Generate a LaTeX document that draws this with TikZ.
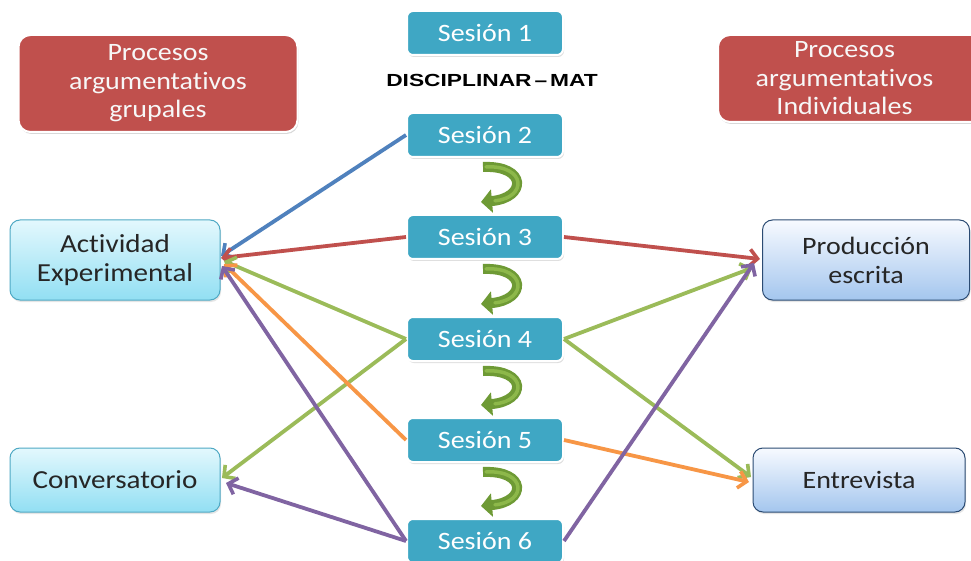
\documentclass[tikz,border=0pt]{standalone}
\usepackage{fontspec}
\usepackage{graphicx}
\setmainfont{Carlito}[FakeStretch=1.12, Ligatures=NoCommon]
\newfontfamily\discfont{Liberation Sans Bold}[FakeStretch=1.3]
\usetikzlibrary{arrows.meta,shadows,calc}
\definecolor{sesfill}{HTML}{3FA7C4}
\definecolor{redbox}{HTML}{C0504D}
\definecolor{cyanTop}{HTML}{E3F8FD}
\definecolor{cyanBot}{HTML}{92DFF3}
\definecolor{cyanBorder}{HTML}{4FA9C4}
\definecolor{blueTop}{HTML}{F7FAFF}
\definecolor{blueBot}{HTML}{A4C6EE}
\definecolor{blueBorder}{HTML}{2B4B73}
\definecolor{aBlue}{HTML}{4F81BD}
\definecolor{aRed}{HTML}{C0504D}
\definecolor{aGreen}{HTML}{9BBB59}
\definecolor{aOrange}{HTML}{F79646}
\definecolor{aPurple}{HTML}{8064A2}
\definecolor{curveGreen}{HTML}{6E9A35}
\definecolor{curveLight}{HTML}{8DB84A}
\tikzset{
  ses/.style={draw=white, line width=2pt, fill=sesfill, rounded corners=6pt,
    minimum width=156pt, minimum height=44pt, text=white,
    font=\fontsize{25}{29}\selectfont,
    drop shadow={opacity=0.25, shadow xshift=1pt, shadow yshift=-2pt}},
  redbx/.style={fill=redbox, draw=white, line width=2pt, rounded corners=12pt,
    text=white!94!gray, align=center, font=\fontsize{25}{28.5}\selectfont,
    drop shadow={opacity=0.3, shadow xshift=1pt, shadow yshift=-2pt}},
  lbox/.style={draw=cyanBorder, line width=1pt, top color=cyanTop, bottom color=cyanBot,
    rounded corners=10pt, align=center, text=black!85,
    font=\fontsize{26}{29}\selectfont,
    drop shadow={opacity=0.2, shadow xshift=1pt, shadow yshift=-2pt}},
  rbox/.style={draw=blueBorder, line width=1pt, top color=blueTop, bottom color=blueBot,
    rounded corners=10pt, align=center, text=black!85,
    font=\fontsize{25}{29}\selectfont,
    drop shadow={opacity=0.2, shadow xshift=1pt, shadow yshift=-2pt}},
  conn/.style={line width=3.8pt, -{Straight Barb[length=8pt,width=17pt,line width=3.6pt]}},
  curv/.style={line width=10pt, curveGreen, -{Triangle[length=11pt,width=23pt]}},
}
\begin{document}
\begin{tikzpicture}[x=1pt,y=-1pt]
\useasboundingbox[fill=white] (0,0) rectangle (971,561);
% header boxes
\node[redbx, minimum width=279pt, minimum height=97pt] (pg) at (158,83.5) {Procesos\\argumentativos\\grupales};
\node[redbx, minimum width=267pt, minimum height=87pt] (pi) at (851.5,78.5) {\hspace*{-14pt}Procesos\\\hspace*{-14pt}argumentativos\\\hspace*{-14pt}Individuales};
% sessions
\node[ses] (s1) at (485,33) {Sesión 1};
\node[font=\discfont\fontsize{17.5}{20}\selectfont] (disc) at (492,80) {DISCIPLINAR\,–\,MAT};
\node[ses] (s2) at (485,135) {Sesión 2};
\node[ses] (s3) at (485,237) {Sesión 3};
\node[ses] (s4) at (485,339) {Sesión 4};
\node[ses] (s5) at (485,440) {Sesión 5};
\node[ses] (s6) at (485,541) {Sesión 6};
% side boxes
\node[lbox, minimum width=210pt, minimum height=80pt] (ae) at (115,260) {Actividad\\Experimental};
\node[lbox, minimum width=210pt, minimum height=64pt] (cv) at (115,480) {Conversatorio};
\node[rbox, minimum width=207pt, minimum height=80pt] (pe) at (866,260) {Producción\\escrita};
\node[rbox, minimum width=212pt, minimum height=64pt] (en) at (859,480) {Entrevista};
% arrow targets
\coordinate (ae1) at (221,256);
\coordinate (ae2) at (221,258);
\coordinate (ae3) at (224,261);
\coordinate (ae4) at (224,264);
\coordinate (ae5) at (222,266);
\coordinate (cv1) at (222,478);
\coordinate (cv2) at (226,483);
\coordinate (pe1) at (760,259);
\coordinate (pe2) at (752,268);
\coordinate (pe3) at (754,263);
\coordinate (en1) at (751,477);
\coordinate (en2) at (749,482);
% connectors
\draw[conn, aBlue] (s2.west) -- (ae1);
\draw[conn, aRed] (s3.west) -- (ae2);
\draw[conn, aRed] (s3.east) -- (pe1);
\draw[conn, aGreen] (s4.west) -- (ae3);
\draw[conn, aGreen] (s4.west) -- (cv1);
\draw[conn, aGreen] (s4.east) -- (pe2);
\draw[conn, aGreen] (s4.east) -- (en1);
\draw[conn, aOrange] (s5.west) -- (ae4);
\draw[conn, aOrange] (s5.east) -- (en2);
\draw[conn, aPurple] (s6.west) -- (ae5);
\draw[conn, aPurple] (s6.west) -- (cv2);
\draw[conn, aPurple] (s6.east) -- (pe3);
% curved green arrows
\foreach \a/\b in {s2/s3,s3/s4,s4/s5,s5/s6}{
  \draw[curv] ($(\a.south)+(-2,9)$) .. controls +(44,-2) and +(46,-4) .. ($(\b.north)+(-4,-12)$);
  \draw[line width=3.5pt, curveLight, line cap=round, shorten >=14pt, shorten <=3pt]
    ($(\a.south)+(-2,9)$) .. controls +(44,-2) and +(46,-4) .. ($(\b.north)+(-4,-12)$);
}
\end{tikzpicture}
\end{document}
